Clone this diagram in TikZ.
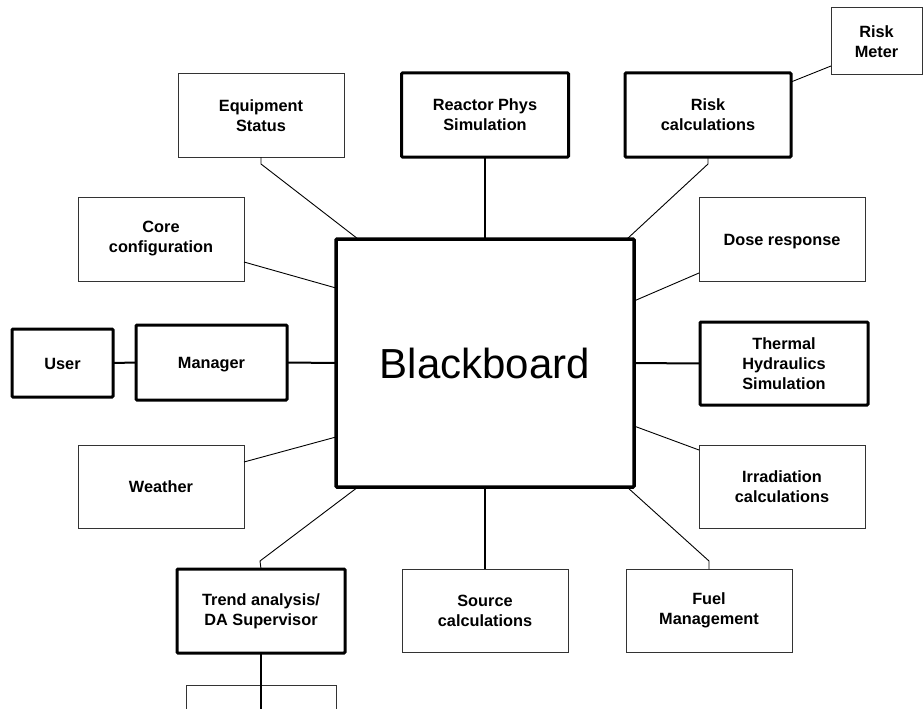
\documentclass[tikz,border=0pt]{standalone}
\usepackage{fontspec}
\setmainfont{Liberation Sans}
\usetikzlibrary{calc}
\tikzset{
  base/.style={rectangle, inner sep=2pt, outer sep=0pt, align=center,
    font=\bfseries\fontsize{16.3}{20}\selectfont, fill=white},
  thinbox/.style={base, draw=black!80, line width=1pt},
  thickbox/.style={base, draw=black, line width=3pt, rounded corners=1pt},
  oneline/.style={text height=12pt, text depth=0pt},
  link/.style={draw=black, line width=0.9pt},
  trunk/.style={draw=black, line width=2pt},
}
\begin{document}
\begin{tikzpicture}[x=1pt,y=-1pt]
\fill[white] (0,0) rectangle (924,709);
\useasboundingbox (0,0) rectangle (924,709);
\clip (0,0) rectangle (924,709);

% central blackboard
\node[thickbox, line width=3.5pt, minimum width=298pt, minimum height=248pt,
      font=\fontsize{42}{46}\selectfont] (bb) at (485,363) {Blackboard};

% top row
\node[thinbox,  minimum width=166pt, minimum height=83pt] (eq) at (261,115.5) {Equipment\\Status};
\node[thickbox, minimum width=167pt, minimum height=84pt] (rp) at (485,115) {Reactor Phys\\Simulation};
\node[thickbox, minimum width=166pt, minimum height=84pt] (rc) at (708,115) {Risk\\calculations};
\node[thinbox,  minimum width=91pt,  minimum height=67pt] (rm) at (876.5,41.5) {Risk\\Meter};

% upper side boxes
\node[thinbox, minimum width=166pt, minimum height=84pt] (core) at (161,239) {Core\\configuration};
\node[thinbox, oneline, minimum width=166pt, minimum height=84pt] (dose) at (782,239) {Dose response};

% middle row
\node[thickbox, oneline, minimum width=101pt, minimum height=68pt] (user) at (62.5,363) {User};
\node[thickbox, oneline, minimum width=151pt, minimum height=75pt] (mgr) at (211.5,362.5) {Manager};
\node[thickbox, minimum width=168pt, minimum height=83pt] (th) at (784,363.5) {Thermal\\Hydraulics\\Simulation};

% lower side boxes
\node[thinbox, oneline, minimum width=166pt, minimum height=83pt] (wx) at (161,486.5) {Weather};
\node[thinbox, minimum width=166pt, minimum height=83pt] (irr) at (782,486.5) {Irradiation\\calculations};

% bottom row
\node[thickbox, minimum width=168pt, minimum height=84pt] (trend) at (261,611) {Trend analysis/\\DA Supervisor};
\node[thinbox,  minimum width=166pt, minimum height=83pt] (src) at (485,610.5) {Source\\calculations};
\node[thinbox,  minimum width=166pt, minimum height=83pt] (fuel) at (709,610.5) {Fuel\\Management};
\node[thinbox,  minimum width=150pt, minimum height=70pt] (below) at (261,720) {};
\coordinate (tail) at (261,712);

% straight trunks
\draw[trunk] (rp.south) -- (bb.north);
\draw[trunk] (src.north) -- (bb.south);
\draw[trunk] (mgr.east) -- (bb.west);
\draw[trunk] (user.east) -- (mgr.west);
\draw[trunk] (bb.east) -- (th.west);
\draw[trunk] (trend.south) -- (tail);

% diagonal links
\draw[link] (eq.south) -- ++(0,7) -- ($(bb.north west)+(22,0)$);
\draw[link] (rc.south) -- ++(0,7) -- ($(bb.north east)+(-7,0)$);
\draw[link] ($(rc.north east)+(0,9)$) -- ($(rm.south west)+(0,-9)$);
\draw[link] ($(core.south east)+(0,-19)$) -- ($(bb.north west)+(0,49)$);
\draw[link] ($(dose.south west)+(0,-8)$) -- ($(bb.north east)+(0,62)$);
\draw[link] ($(wx.north east)+(0,17)$) -- ($(bb.south west)+(0,-50)$);
\draw[link] ($(irr.north west)+(0,5)$) -- ($(bb.south east)+(0,-61)$);
\draw[link] ($(bb.south west)+(22,0)$) -- ($(trend.north)+(-1,-8)$) -- (trend.north);
\draw[link] ($(bb.south east)+(-7,0)$) -- ($(fuel.north)+(0,-8)$) -- (fuel.north);
\end{tikzpicture}
\end{document}
